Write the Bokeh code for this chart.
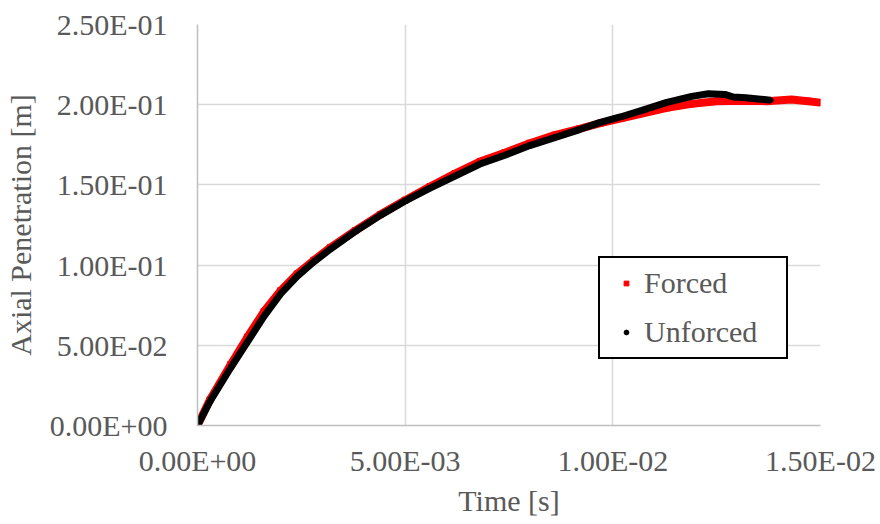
from bokeh.plotting import figure
from bokeh.models import Range1d, FixedTicker, Legend, LegendItem
from bokeh.embed import file_html
from bokeh.resources import INLINE

# ---- data ----
forced_t = [0.0, 0.0003, 0.0008, 0.0012, 0.0016, 0.0020, 0.0024, 0.0028, 0.0032, 0.0038,
            0.0044, 0.0050, 0.0056, 0.0062, 0.0068, 0.0074, 0.0080, 0.0086, 0.0092, 0.0097,
            0.0102, 0.0107, 0.0113, 0.0119, 0.0125, 0.0131, 0.0137, 0.0143, 0.0147, 0.0150]
forced_y = [0.0, 0.016, 0.038, 0.055, 0.071, 0.084, 0.0945, 0.103, 0.111, 0.1215,
            0.1315, 0.1405, 0.149, 0.157, 0.1645, 0.170, 0.176, 0.181, 0.185, 0.1885,
            0.1915, 0.1945, 0.198, 0.2005, 0.2022, 0.2025, 0.2022, 0.2032, 0.2022, 0.2013]

unforced_t = [0.0, 0.0003, 0.0008, 0.0012, 0.0016, 0.0020, 0.0024, 0.0028, 0.0032, 0.0038,
              0.0044, 0.0050, 0.0056, 0.0062, 0.0068, 0.0074, 0.0080, 0.0086, 0.0092, 0.0097,
              0.0102, 0.0107, 0.0113, 0.0119, 0.0123, 0.0127, 0.0129, 0.0132, 0.0135, 0.0138]
unforced_y = [0.0, 0.015, 0.036, 0.052, 0.068, 0.082, 0.093, 0.102, 0.110, 0.121,
              0.131, 0.140, 0.148, 0.1555, 0.163, 0.1685, 0.1745, 0.1795, 0.1845, 0.189,
              0.1925, 0.1965, 0.2015, 0.2052, 0.2068, 0.2064, 0.2048, 0.2043, 0.2036, 0.2028]

x_ticks = [0.0, 0.005, 0.010, 0.015]
x_labels = ["0.00E+00", "5.00E-03", "1.00E-02", "1.50E-02"]
y_ticks = [0.0, 0.05, 0.10, 0.15, 0.20, 0.25]
y_labels = ["0.00E+00", "5.00E-02", "1.00E-01", "1.50E-01", "2.00E-01", "2.50E-01"]

FONT = "Liberation Serif"
TXT = "#595959"
FS = "30px"

p = figure(frame_width=623, frame_height=401,
           min_border_left=197, min_border_right=60, min_border_top=24, min_border_bottom=99,
           x_range=Range1d(0, 0.015), y_range=Range1d(0, 0.25),
           output_backend="svg", toolbar_location=None)
p.outline_line_color = None
p.background_fill_color = "white"
p.border_fill_color = "white"

# grid
for g in (p.xgrid, p.ygrid):
    g.grid_line_color = "#d9d9d9"
    g.grid_line_width = 1.5
p.xgrid.ticker = FixedTicker(ticks=x_ticks)
p.ygrid.ticker = FixedTicker(ticks=y_ticks)

# axes
p.xaxis.ticker = FixedTicker(ticks=x_ticks)
p.yaxis.ticker = FixedTicker(ticks=y_ticks)
p.xaxis.major_label_overrides = {t: l for t, l in zip(x_ticks, x_labels)}
p.yaxis.major_label_overrides = {t: l for t, l in zip(y_ticks, y_labels)}
for ax in (p.xaxis, p.yaxis):
    ax.axis_line_color = "#bfbfbf"
    ax.axis_line_width = 1.5
    ax.major_tick_line_color = None
    ax.minor_tick_line_color = None
    ax.major_label_text_font = FONT
    ax.major_label_text_font_size = FS
    ax.major_label_text_color = TXT
    ax.axis_label_text_font = FONT
    ax.axis_label_text_font_size = FS
    ax.axis_label_text_color = TXT
    ax.axis_label_text_font_style = "normal"
p.xaxis.axis_label = "Time [s]"
p.yaxis.axis_label = "Axial Penetration [m]"
p.xaxis.major_label_standoff = 12
p.yaxis.major_label_standoff = 24
p.xaxis.axis_label_standoff = 4
p.yaxis.axis_label_standoff = 10

# series: dense markers appear as thick bands
p.line(forced_t, forced_y, line_color="red", line_width=8)
r_forced = p.scatter(forced_t, forced_y, marker="square", size=6, color="red")
p.line(unforced_t, unforced_y, line_color="black", line_width=7)
r_unforced = p.scatter(unforced_t, unforced_y, marker="circle", size=5, color="black")

legend = Legend(items=[LegendItem(label="Forced", renderers=[r_forced]),
                       LegendItem(label="Unforced", renderers=[r_unforced])],
                location=(401, 66))
legend.label_text_font = FONT
legend.label_text_font_size = FS
legend.label_text_color = TXT
legend.border_line_color = "black"
legend.border_line_alpha = 1.0
legend.border_line_width = 2.5
legend.background_fill_color = "white"
legend.background_fill_alpha = 1
legend.padding = 8
legend.margin = 0
legend.spacing = 15
legend.glyph_width = 36
legend.glyph_height = 12
legend.label_standoff = 0
legend.label_width = 134
p.add_layout(legend, "center")

open("out.html", "w").write(file_html(p, INLINE))
